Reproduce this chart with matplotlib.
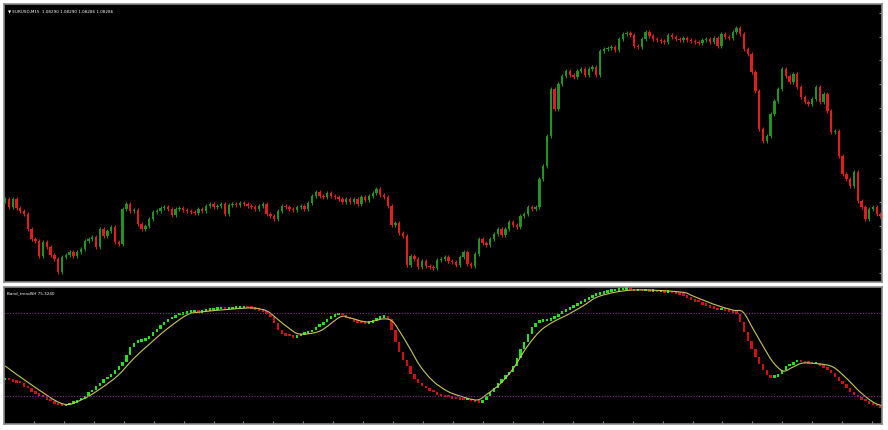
import numpy as np
import matplotlib
matplotlib.use("Agg")
from matplotlib import pyplot as plt
from matplotlib.path import Path
from matplotlib.patches import PathPatch

# EURUSD M15 closes (left to right)
closes = [
    1.08370, 1.08330, 1.08370, 1.08325, 1.08310, 1.08295, 1.08220, 1.08170, 1.08160, 1.08085,
    1.08155, 1.08130, 1.08090, 1.08070, 1.08005, 1.08080, 1.08090, 1.08105, 1.08085, 1.08105,
    1.08120, 1.08160, 1.08170, 1.08180, 1.08130, 1.08220, 1.08185, 1.08210, 1.08230, 1.08155,
    1.08145, 1.08320, 1.08345, 1.08310, 1.08315, 1.08245, 1.08220, 1.08235, 1.08270, 1.08305,
    1.08310, 1.08325, 1.08330, 1.08320, 1.08290, 1.08320, 1.08325, 1.08315, 1.08310, 1.08305,
    1.08300, 1.08320, 1.08310, 1.08335, 1.08345, 1.08330, 1.08335, 1.08345, 1.08295, 1.08340,
    1.08345, 1.08340, 1.08350, 1.08345, 1.08335, 1.08330, 1.08320, 1.08335, 1.08345, 1.08295,
    1.08285, 1.08270, 1.08310, 1.08335, 1.08330, 1.08320, 1.08315, 1.08330, 1.08335, 1.08320,
    1.08350, 1.08385, 1.08405, 1.08385, 1.08380, 1.08400, 1.08385, 1.08380, 1.08370, 1.08355,
    1.08370, 1.08355, 1.08370, 1.08345, 1.08380, 1.08365, 1.08385, 1.08400, 1.08420, 1.08390,
    1.08380, 1.08335, 1.08240, 1.08250, 1.08200, 1.08185, 1.08040, 1.08085, 1.08070, 1.08030,
    1.08060, 1.08035, 1.08030, 1.08025, 1.08065, 1.08070, 1.08080, 1.08060, 1.08055, 1.08040,
    1.08080, 1.08105, 1.08045, 1.08035, 1.08095, 1.08170, 1.08150, 1.08140, 1.08170, 1.08195,
    1.08220, 1.08190, 1.08220, 1.08255, 1.08240, 1.08230, 1.08285, 1.08295, 1.08330, 1.08320,
    1.08330, 1.08470, 1.08535, 1.08685, 1.08920, 1.08820, 1.08945, 1.08985, 1.09010, 1.08990,
    1.08980, 1.09010, 1.09020, 1.08990, 1.09020, 1.09030, 1.08990, 1.09110, 1.09120, 1.09125,
    1.09130, 1.09115, 1.09170, 1.09195, 1.09200, 1.09190, 1.09135, 1.09130, 1.09170, 1.09205,
    1.09185, 1.09170, 1.09165, 1.09160, 1.09155, 1.09190, 1.09180, 1.09170, 1.09165, 1.09175,
    1.09165, 1.09160, 1.09155, 1.09150, 1.09165, 1.09170, 1.09155, 1.09175, 1.09135, 1.09195,
    1.09180, 1.09175, 1.09205, 1.09225, 1.09195, 1.09120, 1.09095, 1.09005, 1.08910, 1.08720,
    1.08660, 1.08685, 1.08795, 1.08860, 1.08920, 1.09020, 1.08985, 1.08955, 1.08995, 1.08930,
    1.08880, 1.08855, 1.08845, 1.08870, 1.08930, 1.08855, 1.08895, 1.08810, 1.08705, 1.08710,
    1.08585, 1.08495, 1.08470, 1.08435, 1.08505, 1.08360, 1.08330, 1.08270, 1.08320, 1.08330,
    1.08295, 1.08285,
]
first_open = 1.08360

# Band_trendSH main line (0-100)
band = [
    32.0, 31.5, 30.7, 30.0, 29.3, 27.0, 25.7, 23.5, 22.0, 20.6,
    19.2, 17.7, 16.3, 14.8, 13.4, 12.7, 13.4, 14.8, 15.5, 17.0,
    18.4, 20.6, 22.8, 24.9, 27.8, 30.0, 32.2, 34.3, 36.5, 39.4,
    41.6, 45.2, 50.2, 56.0, 58.9, 59.6, 60.4, 61.8, 64.0, 66.9,
    69.0, 71.9, 74.1, 75.6, 77.0, 78.5, 79.2, 79.9, 80.6, 81.0,
    81.3, 80.6, 81.3, 82.0, 82.4, 82.8, 83.1, 83.5, 83.1, 83.1,
    83.5, 83.5, 83.9, 84.2, 83.9, 83.5, 82.8, 82.0, 81.3, 79.9,
    77.7, 73.4, 68.3, 65.4, 64.0, 63.3, 62.5, 63.3, 64.7, 65.4,
    66.2, 68.3, 70.5, 71.9, 74.1, 76.3, 77.7, 78.5, 79.2, 78.5,
    77.0, 75.6, 74.1, 73.4, 73.0, 72.6, 73.4, 74.8, 76.3, 77.0,
    77.2, 76.3, 68.3, 59.6, 52.4, 46.6, 41.6, 36.5, 32.9, 30.0,
    27.8, 25.7, 24.2, 22.8, 21.0, 19.9, 19.5, 19.2, 18.4, 18.1,
    17.7, 17.0, 17.4, 16.3, 15.9, 15.5, 17.7, 20.6, 23.5, 26.4,
    29.3, 32.2, 35.1, 37.9, 42.3, 48.1, 53.9, 59.6, 65.4, 70.5,
    73.4, 74.1, 74.5, 74.8, 76.3, 77.7, 79.9, 81.3, 82.8, 84.2,
    85.7, 87.1, 88.6, 90.0, 91.5, 92.9, 93.6, 94.3, 95.1, 95.8,
    96.2, 96.5, 96.9, 97.2, 97.2, 96.9, 96.2, 96.5, 96.2, 96.2,
    95.8, 95.8, 95.4, 95.4, 95.1, 95.1, 94.7, 94.3, 93.6, 92.9,
    91.5, 90.0, 88.6, 87.9, 86.4, 85.7, 84.2, 83.5, 82.4, 82.8,
    82.0, 81.3, 80.6, 79.9, 74.1, 66.9, 60.4, 54.6, 48.8, 43.7,
    39.4, 35.8, 33.6, 34.3, 36.5, 39.4, 41.6, 43.0, 44.5, 45.2,
    44.5, 44.1, 43.7, 43.4, 43.7, 42.3, 40.8, 39.4, 37.2, 34.3,
    31.4, 28.6, 25.7, 23.5, 21.3, 19.2, 17.7, 16.3, 14.8, 13.7,
    12.7, 11.6,
]

# signal line vertices (bar index, value)
signal_idx = [0, 7.4, 15.3, 20.6, 25, 29.6, 33.8, 37.5, 42.7, 48, 51.5, 60.2, 65.4, 69.1,
              71.8, 75.2, 77.8, 83.1, 88.4, 91, 95.5, 99.7, 102.1, 104.2, 106.9, 109.5,
              112.9, 116.6, 120, 124.5, 127.2, 130.6, 134, 137.7, 141.2, 144.6, 148.3,
              152.5, 157, 165.7, 178.1, 181.5, 186.8, 192, 194.7, 197.4, 200, 202.6,
              205.3, 207.9, 210.6, 215, 218.5, 222.2, 225.6, 229, 231.4]
signal_val = [41.6, 27.1, 14.1, 17.7, 24.9, 34.3, 46.6, 56.0, 68.3, 78.5, 80.6, 82.8, 83.5, 81.3,
              75.6, 68.3, 64.7, 66.9, 77.0, 76.3, 73.4, 75.6, 74.1, 66.2, 53.9, 41.6,
              30.7, 23.5, 19.9, 17.0, 21.3, 28.6, 39.4, 55.3, 66.9, 73.4, 78.5,
              85.0, 92.2, 96.5, 95.1, 92.2, 86.4, 82.0, 80.6, 68.3, 56.0, 44.5,
              37.9, 40.8, 43.7, 43.0, 40.8, 32.2, 22.8, 15.5, 12.7]

levels = [80, 20]
title_top = "\u25bc EURUSD,M15  1.08290 1.08290 1.08286 1.08286"
title_bottom = "Band_trendSH 75.3240"

up_c = "#229322"
dn_c = "#e01e1e"
osc_up = "#22e022"
osc_dn = "#d01010"
frame = "#8a8a8a"

n = len(closes)
x = np.arange(n)
c = np.array(closes)
o = np.concatenate([[first_open], c[:-1]])
wick = 0.00010
hi = np.maximum(o, c) + wick
lo = np.minimum(o, c) - wick

fig = plt.figure(figsize=(8.88, 4.31), dpi=100, facecolor="white")
ax1 = fig.add_axes([4 / 888, 1 - 283 / 431, 878 / 888, 278 / 431])
ax2 = fig.add_axes([4 / 888, 1 - 425 / 431, 878 / 888, 137 / 431])

for ax in (ax1, ax2):
    ax.set_facecolor("black")
    for s in ax.spines.values():
        s.set_color(frame)
        s.set_linewidth(1.2)
    ax.set_xlim(-0.3, 231.4)
    ax.tick_params(axis="both", which="both", direction="in", length=2, color=frame,
                   labelleft=False, labelbottom=False, left=False, right=True,
                   bottom=True, top=False, labelright=False)
    ax.set_xticks(np.arange(7.6, 232, 7.9))
ax1.tick_params(axis="x", bottom=False)

# candles
cols = np.where(c >= o, up_c, dn_c)
ax1.vlines(x, lo, hi, colors=cols, linewidth=0.8)
body = np.maximum(np.abs(c - o), 0.00003)
ax1.bar(x, body, bottom=np.minimum(o, c), width=0.62, color=cols, linewidth=0)
ax1.set_ylim(1.07955, 1.09345)
ax1.set_yticks(np.linspace(1.0800, 1.0930, 12))
ax1.text(0.004, 0.985, title_top, transform=ax1.transAxes, color="white",
         fontsize=3, va="top", ha="left")

# oscillator bars
b = np.array(band)
prev = np.concatenate([[b[0]], b[:-1]])
bcols = np.where(b >= prev, osc_up, osc_dn)
bot = np.minimum(prev, b)
h = np.maximum(np.abs(b - prev), 1.6)
ax2.bar(x, h, bottom=bot - 0.4, width=0.62, color=bcols, linewidth=0)

# signal line drawn as a smooth curve through the read vertices
px = np.array(signal_idx, dtype=float)
py = np.array(signal_val, dtype=float)
verts = [(px[0], py[0])]
codes = [Path.MOVETO]
for i in range(len(px) - 1):
    p0 = (px[max(i - 1, 0)], py[max(i - 1, 0)])
    p1 = (px[i], py[i])
    p2 = (px[i + 1], py[i + 1])
    p3 = (px[min(i + 2, len(px) - 1)], py[min(i + 2, len(px) - 1)])
    c1 = (p1[0] + (p2[0] - p0[0]) / 6, p1[1] + (p2[1] - p0[1]) / 6)
    c2 = (p2[0] - (p3[0] - p1[0]) / 6, p2[1] - (p3[1] - p1[1]) / 6)
    verts += [c1, c2, p2]
    codes += [Path.CURVE4] * 3
ax2.add_patch(PathPatch(Path(verts, codes), facecolor="none",
                        edgecolor="#c8c85a", linewidth=0.8))

for lv in levels:
    ax2.axhline(lv, color="#8a2a9a", linestyle=(0, (1, 1.5)), linewidth=0.8)
ax2.set_ylim(-0.4, 98.7)
ax2.set_yticks([])
ax2.text(0.003, 0.975, title_bottom, transform=ax2.transAxes, color="white",
         fontsize=3, va="top", ha="left")

fig.savefig("out.png", dpi=100, facecolor="white")
